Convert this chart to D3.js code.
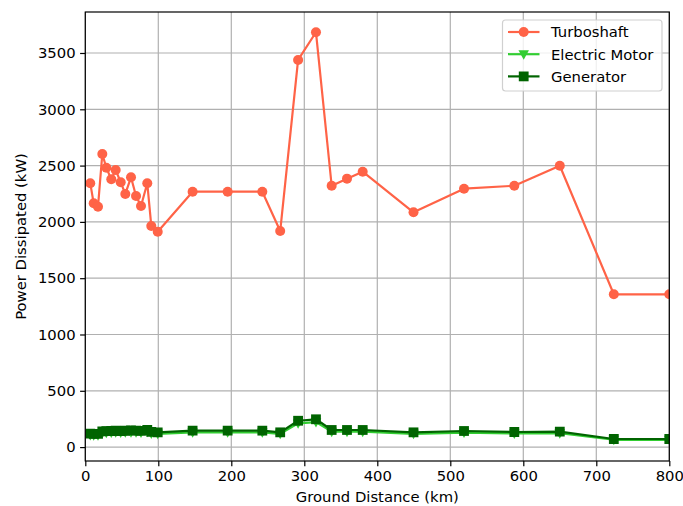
<!DOCTYPE html>
<html><head><meta charset="utf-8">
<script src="https://cdn.jsdelivr.net/npm/d3@7"></script>
<style>body{margin:0;background:#fff}svg{display:block}text{font-family:"DejaVu Sans",sans-serif;fill:#000}</style>
</head><body>
<svg id="c" width="683" height="506"></svg>
<script>
const distance = [6.8, 11.5, 17.4, 23.3, 28.8, 35.6, 41.6, 48.5, 54.8, 62.6, 69.5, 76.3, 84.9, 90.4, 99.2, 147, 195, 242.5, 267, 291.5, 316, 337.5, 358.5, 380, 449.6, 518.8, 587.7, 650, 724, 800];
const turboshaft = [2343, 2165, 2135, 2603, 2481, 2378, 2461, 2352, 2248, 2396, 2230, 2141, 2343, 1964, 1913, 2268, 2268, 2268, 1919, 3438, 3684, 2321, 2384, 2446, 2085, 2295, 2321, 2499, 1357, 1357];
const electricMotor = [108, 106, 105, 126, 128, 129, 131, 129, 131, 133, 131, 130, 137, 121, 118, 131, 131, 131, 118, 211, 222, 137, 137, 137, 118, 129, 121, 123, 65, 65];
const generator = [120, 118, 117, 140, 142, 143, 145, 143, 145, 148, 146, 144, 152, 135, 131, 146, 146, 146, 131, 234, 247, 152, 152, 152, 131, 143, 134, 137, 72, 72];
const xTicks = [0, 100, 200, 300, 400, 500, 600, 700, 800];
const yTicks = [0, 500, 1000, 1500, 2000, 2500, 3000, 3500];
const seriesNames = ["Turboshaft", "Electric Motor", "Generator"];
const seriesColors = ["#ff6347", "#32cd32", "#006400"];
const seriesMarkers = ["circle", "triangle", "square"];

const svg = d3.select("#c");
const L = 85.3, R = 669.3, T = 12, B = 461;
const x = d3.scaleLinear().domain([0, 800]).range([L, R]);
const y = d3.scaleLinear().domain([-123.5, 3864]).range([B, T]);
const FS = 14.8;

svg.append("defs").append("clipPath").attr("id", "clip")
  .append("rect").attr("x", L).attr("y", T).attr("width", R - L).attr("height", B - T);

// grid
const g = svg.append("g");
g.selectAll(".gx").data(xTicks).join("line")
  .attr("x1", d => x(d)).attr("x2", d => x(d)).attr("y1", T).attr("y2", B)
  .attr("stroke", "#b0b0b0").attr("stroke-width", 1.2);
g.selectAll(".gy").data(yTicks).join("line")
  .attr("y1", d => y(d)).attr("y2", d => y(d)).attr("x1", L).attr("x2", R)
  .attr("stroke", "#b0b0b0").attr("stroke-width", 1.2);

const series = [turboshaft, electricMotor, generator];
const sym = {
  circle: d3.symbol().type(d3.symbolCircle).size(Math.PI * 5 * 5),
  square: d3.symbol().type(d3.symbolSquare).size(9.8 * 9.8),
};
function markerPath(kind, s) {
  if (kind === "triangle") {
    const h = s * 0.5;
    return `M${-h},${-h * 0.75}L${h},${-h * 0.75}L0,${h * 1.05}Z`;
  }
  return sym[kind]();
}

const plot = svg.append("g").attr("clip-path", "url(#clip)");
series.forEach((vals, i) => {
  const pts = distance.map((d, j) => [d, vals[j]]);
  plot.append("path").datum(pts)
    .attr("fill", "none").attr("stroke", seriesColors[i]).attr("stroke-width", 2.2)
    .attr("stroke-linejoin", "round").attr("stroke-linecap", "square")
    .attr("d", d3.line().x(d => x(d[0])).y(d => y(d[1])));
  plot.selectAll(null).data(pts).join("path")
    .attr("transform", d => `translate(${x(d[0])},${y(d[1])})`)
    .attr("d", markerPath(seriesMarkers[i], 10.5))
    .attr("fill", seriesColors[i]);
});

// axes
const xa = svg.append("g").attr("transform", `translate(0,${B})`)
  .call(d3.axisBottom(x).tickValues(xTicks).tickSize(5.2).tickPadding(4.5).tickFormat(d3.format("d")));
const ya = svg.append("g").attr("transform", `translate(${L},0)`)
  .call(d3.axisLeft(y).tickValues(yTicks).tickSize(5.2).tickPadding(4.5).tickFormat(d3.format("d")));
[xa, ya].forEach(a => {
  a.select(".domain").remove();
  a.selectAll("line").attr("stroke", "#000").attr("stroke-width", 1.2);
  a.selectAll("text").attr("font-size", FS).attr("font-family", "DejaVu Sans");
});
// spines
svg.append("rect").attr("x", L).attr("y", T).attr("width", R - L).attr("height", B - T)
  .attr("fill", "none").attr("stroke", "#000").attr("stroke-width", 1.2);

svg.append("text").attr("x", (L + R) / 2).attr("y", 502).attr("text-anchor", "middle")
  .attr("font-size", FS).text("Ground Distance (km)");
svg.append("text").attr("transform", `translate(25.5,${(T + B) / 2}) rotate(-90)`)
  .attr("text-anchor", "middle").attr("font-size", FS).text("Power Dissipated (kW)");

// legend
const lg = svg.append("g");
lg.append("rect").attr("x", 502.5).attr("y", 20).attr("width", 159.5).attr("height", 71).attr("rx", 3)
  .attr("fill", "#fff").attr("fill-opacity", 0.8).attr("stroke", "#d0d0d0").attr("stroke-width", 1.2);
seriesNames.forEach((n, i) => {
  const yy = 32 + i * 22.2;
  lg.append("line").attr("x1", 508).attr("x2", 539.5).attr("y1", yy).attr("y2", yy)
    .attr("stroke", seriesColors[i]).attr("stroke-width", 2.2);
  lg.append("path").attr("transform", `translate(523.7,${yy})`)
    .attr("d", markerPath(seriesMarkers[i], 10.5)).attr("fill", seriesColors[i]);
  lg.append("text").attr("x", 551).attr("y", yy).attr("dy", "0.36em")
    .attr("font-size", FS).text(n);
});
</script>
</body></html>
